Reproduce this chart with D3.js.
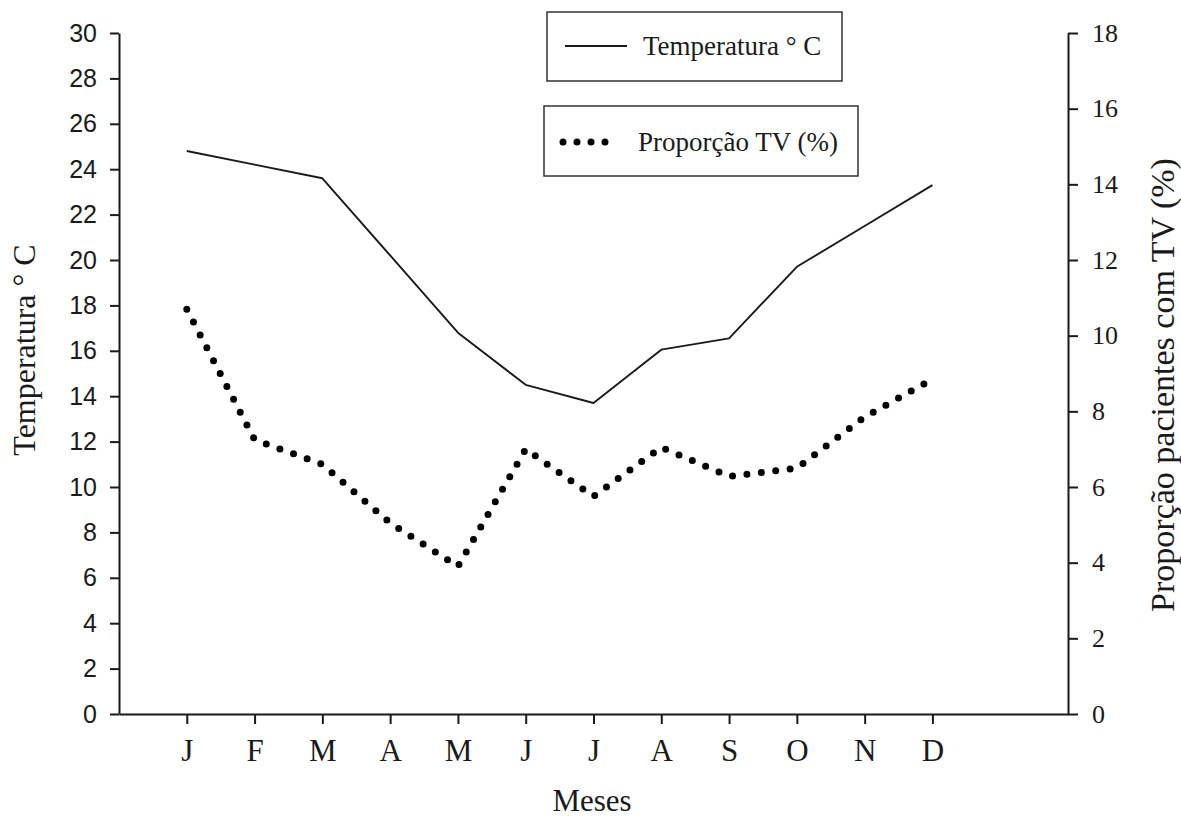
<!DOCTYPE html>
<html>
<head>
<meta charset="utf-8">
<script src="https://cdn.jsdelivr.net/npm/d3@7"></script>
<style>
  body { margin: 0; background: #fff; }
  svg { display: block; }
</style>
</head>
<body>
<svg id="chart" width="1181" height="823"></svg>
<script>
// Monthly mean temperature and share of patients with TV
const months = ["J", "F", "M", "A", "M", "J", "J", "A", "S", "O", "N", "D"];
const temperatura = [24.8, 24.2, 23.6, 20.2, 16.8, 14.5, 13.7, 16.05, 16.55, 19.7, 21.5, 23.3];
const proporcaoTV = [10.7, 7.25, 6.6, 5.05, 3.9, 7.0, 5.75, 7.05, 6.28, 6.5, 7.85, 8.85];
const tempTicks = d3.range(0, 31, 2);
const tvTicks = d3.range(0, 19, 2);

const SERIF = "'Liberation Serif', 'Times New Roman', serif";
const SANS = "'Liberation Sans', Arial, sans-serif";
const INK = "#1a1a1a";

const svg = d3.select("#chart");
const plotL = 119, plotR = 1068, plotT = 33, plotB = 714;

// months sit at 1..12 on a 0..14 axis, leaving margin on both sides
const x = d3.scaleLinear().domain([0, 14]).range([plotL, plotR]);
const yT = d3.scaleLinear().domain([0, 30]).range([plotB, plotT]);
const yP = d3.scaleLinear().domain([0, 18]).range([plotB, plotT]);

function styleAxis(g) {
  g.selectAll(".domain, .tick line").attr("stroke", INK).attr("stroke-width", 2);
}

// left axis: temperature
const gL = svg.append("g")
  .attr("transform", `translate(${plotL},0)`)
  .call(d3.axisLeft(yT).tickValues(tempTicks).tickSize(9).tickSizeOuter(0).tickPadding(13));
styleAxis(gL);
gL.selectAll(".tick text")
  .attr("fill", INK)
  .style("font-family", SANS)
  .style("font-size", "25px");

// right axis: proportion
const gR = svg.append("g")
  .attr("transform", `translate(${plotR},0)`)
  .call(d3.axisRight(yP).tickValues(tvTicks).tickSize(10).tickSizeOuter(0).tickPadding(14));
styleAxis(gR);
gR.selectAll(".tick text")
  .attr("fill", INK)
  .style("font-family", SERIF)
  .style("font-size", "26px");

// bottom axis: months
const gB = svg.append("g")
  .attr("transform", `translate(0,${plotB})`)
  .call(d3.axisBottom(x).tickValues(d3.range(1, 13))
    .tickFormat(i => months[i - 1]).tickSize(10).tickSizeOuter(0));
styleAxis(gB);
gB.selectAll(".tick text")
  .attr("y", 47).attr("dy", null)
  .attr("fill", INK)
  .style("font-family", SERIF)
  .style("font-size", "31px");

// series
const lineT = d3.line().x((d, i) => x(i + 1)).y(d => yT(d));
const lineP = d3.line().x((d, i) => x(i + 1)).y(d => yP(d));

svg.append("path")
  .datum(temperatura)
  .attr("d", lineT)
  .attr("fill", "none")
  .attr("stroke", INK)
  .attr("stroke-width", 1.9)
  .attr("stroke-linejoin", "round");

svg.append("path")
  .datum(proporcaoTV)
  .attr("d", lineP)
  .attr("fill", "none")
  .attr("stroke", "#000")
  .attr("stroke-width", 7)
  .attr("stroke-linecap", "round")
  .attr("stroke-dasharray", "0 14.5");

// axis titles
svg.append("text")
  .attr("transform", "translate(35,350) rotate(-90)")
  .attr("text-anchor", "middle")
  .attr("fill", INK)
  .style("font-family", SERIF)
  .style("font-size", "32px")
  .text("Temperatura ° C");

svg.append("text")
  .attr("transform", "translate(1174,385) rotate(-90)")
  .attr("text-anchor", "middle")
  .attr("fill", INK)
  .style("font-family", SERIF)
  .style("font-size", "34px")
  .text("Proporção pacientes com TV (%)");

svg.append("text")
  .attr("x", 592).attr("y", 811)
  .attr("text-anchor", "middle")
  .attr("fill", INK)
  .style("font-family", SERIF)
  .style("font-size", "31px")
  .text("Meses");

// legend
const lg = svg.append("g");
lg.append("rect")
  .attr("x", 547).attr("y", 12).attr("width", 295).attr("height", 69)
  .attr("fill", "#fff").attr("stroke", "#333").attr("stroke-width", 1.5);
lg.append("line")
  .attr("x1", 565).attr("x2", 627).attr("y1", 46).attr("y2", 46)
  .attr("stroke", INK).attr("stroke-width", 1.9);
lg.append("text")
  .attr("x", 643).attr("y", 55)
  .attr("fill", INK)
  .style("font-family", SERIF)
  .style("font-size", "27px")
  .text("Temperatura ° C");

lg.append("rect")
  .attr("x", 544).attr("y", 106).attr("width", 314).attr("height", 70)
  .attr("fill", "#fff").attr("stroke", "#333").attr("stroke-width", 1.5);
lg.append("line")
  .attr("x1", 563).attr("x2", 619).attr("y1", 142).attr("y2", 142)
  .attr("stroke", "#000").attr("stroke-width", 7)
  .attr("stroke-linecap", "round").attr("stroke-dasharray", "0 14");
lg.append("text")
  .attr("x", 638).attr("y", 151)
  .attr("fill", INK)
  .style("font-family", SERIF)
  .style("font-size", "27px")
  .text("Proporção TV (%)");
</script>
</body>
</html>
